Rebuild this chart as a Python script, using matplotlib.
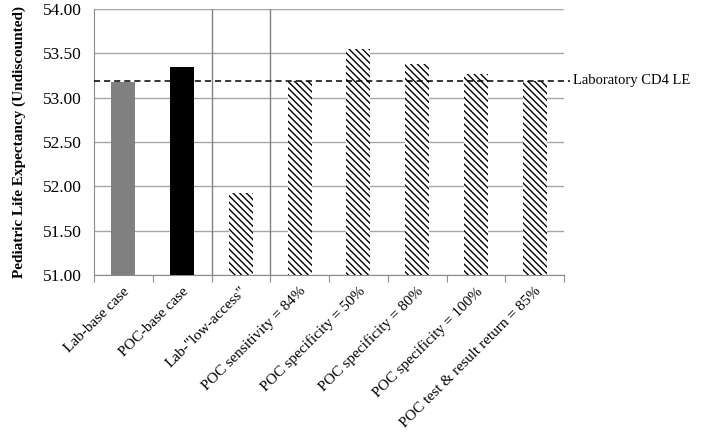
import numpy as np
import matplotlib.pyplot as plt

plt.rcParams['font.family'] = ['Liberation Serif', 'DejaVu Serif']
plt.rcParams['hatch.linewidth'] = 1.0

# --- data ---
categories = ['Lab-base case', 'POC-base case', 'Lab-"low-access"',
              'POC sensitivity = 84%', 'POC specificity = 50%',
              'POC specificity = 80%', 'POC specificity = 100%',
              'POC test & result return = 85%']
life_exp = [53.18, 53.35, 51.93, 53.19, 53.55, 53.38, 53.27, 53.19]
lab_le = 53.19
y_ticks = [51.00, 51.50, 52.00, 52.50, 53.00, 53.50, 54.00]

fig = plt.figure(figsize=(7.01, 4.36), dpi=100)
ax = fig.add_axes([94/701, 1 - 275/436, 470/701, 266/436])

x = np.arange(len(categories))
fills = ['#808080', '#000000'] + ['white'] * 6
hatches = [None, None] + ['\\' * 5] * 6
for xi, v, fc, h in zip(x, life_exp, fills, hatches):
    ax.bar(xi, v - 51, bottom=51, width=0.41, color=fc, hatch=h,
           edgecolor='black' if h else fc, linewidth=0, zorder=3)

ax.set_xlim(-0.5, len(categories) - 0.5)
ax.set_ylim(51, 54)
ax.set_yticks(y_ticks)
ax.set_yticklabels([f'{t:.2f}' for t in y_ticks], fontsize=12.5)
ax.yaxis.grid(True, color='#a6a6a6', linewidth=1, zorder=0)
ax.tick_params(axis='y', length=0, pad=9)

# separators between groups
for s in [1.5, 2.5]:
    ax.axvline(s, color='#808080', linewidth=1, zorder=2)

ax.axhline(lab_le, xmin=0, xmax=1.013, color='black', linestyle=(0, (4, 2.6)),
           linewidth=1.1, zorder=4, clip_on=False)
ax.text(len(categories) - 0.5 + 0.15, lab_le, 'Laboratory CD4 LE',
        fontsize=10.5, va='center', ha='left')

ax.set_xticks(np.arange(-0.5, len(categories), 1), minor=False)
ax.set_xticklabels([])
ax.tick_params(axis='x', length=5, color='#8c8c8c', direction='out')
for xi, lab in zip(x, categories):
    ax.text(xi - 0.01, 50.89, lab, rotation=45, rotation_mode='anchor',
            ha='right', va='top', fontsize=11)

for side in ['top', 'right']:
    ax.spines[side].set_visible(False)
for side in ['left', 'bottom']:
    ax.spines[side].set_color('#8c8c8c')

ax.set_ylabel('Pediatric Life Expectancy (Undiscounted)', fontsize=11,
              fontweight='bold', labelpad=12)

fig.savefig('out.png', dpi=100)
